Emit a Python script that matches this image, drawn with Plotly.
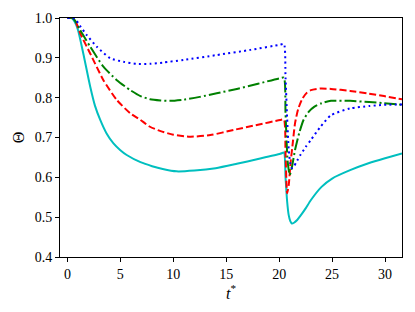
import plotly.graph_objects as go

# ---- data ----
t_cyan = [0, 0.4, 0.7, 1.0, 1.5, 2.15, 2.6, 3.1, 3.7, 4.35, 5.0, 5.6, 6.9, 8.0, 9.0, 10.3, 12, 14, 16, 18,
          20.1, 20.45, 20.6, 20.75, 20.9, 21.05, 21.2, 21.4, 21.7, 22.0, 22.5, 23.0, 24.0, 25.0, 26.7, 28.5, 30.0, 31.6]
th_cyan = [1.0, 1.0, 0.99, 0.97, 0.911, 0.828, 0.78, 0.744, 0.71, 0.685, 0.668, 0.656, 0.638, 0.628, 0.621, 0.615,
           0.617, 0.623, 0.634, 0.646, 0.659, 0.662, 0.6, 0.54, 0.505, 0.49, 0.484, 0.486, 0.493, 0.503, 0.522,
           0.543, 0.576, 0.597, 0.618, 0.636, 0.648, 0.66]

t_red = [0, 0.5, 0.8, 1.2, 2.15, 3.4, 4.67, 5.93, 6.9, 7.8, 8.8, 10, 11.6, 13.5, 15.7, 18, 20.1, 20.45, 20.6,
         20.75, 20.9, 21.07, 21.3, 21.5, 21.8, 22.2, 22.6, 23.0, 23.9, 24.9, 26.7, 28.5, 29.9, 31.6]
th_red = [1.0, 1.0, 0.99, 0.962, 0.911, 0.844, 0.794, 0.761, 0.744, 0.727, 0.716, 0.707, 0.702, 0.706, 0.719,
          0.732, 0.744, 0.745, 0.66, 0.56, 0.58, 0.635, 0.69, 0.736, 0.772, 0.798, 0.812, 0.819, 0.823, 0.822,
          0.817, 0.81, 0.804, 0.796]

t_green = [0, 0.5, 0.8, 1.2, 2.15, 3.4, 4.67, 5.93, 6.9, 7.8, 8.8, 9.7, 11, 12.5, 14.1, 16, 18, 20.1, 20.45,
           20.6, 20.8, 21.0, 21.2, 21.5, 21.9, 22.3, 22.8, 23.3, 24.0, 24.9, 26.7, 28.5, 29.9, 31.6]
th_green = [1.0, 1.0, 0.99, 0.97, 0.928, 0.878, 0.844, 0.819, 0.804, 0.796, 0.793, 0.792, 0.795, 0.802, 0.811,
            0.822, 0.835, 0.849, 0.85, 0.76, 0.64, 0.606, 0.625, 0.669, 0.712, 0.744, 0.765, 0.777, 0.786,
            0.792, 0.792, 0.789, 0.786, 0.782]

t_blue = [0, 0.5, 0.8, 1.2, 1.83, 2.78, 4.04, 5.3, 6.5, 7.8, 9, 11, 14.1, 17.3, 20.1, 20.45, 20.6, 20.75, 20.9,
          21.05, 21.2, 21.4, 21.7, 22.0, 22.5, 23.0, 23.9, 24.9, 26.7, 28.5, 29.9, 31.6]
th_blue = [1.0, 1.0, 0.995, 0.98, 0.957, 0.928, 0.899, 0.89, 0.885, 0.885, 0.888, 0.895, 0.907, 0.92, 0.933,
           0.935, 0.85, 0.75, 0.67, 0.635, 0.623, 0.628, 0.642, 0.656, 0.676, 0.694, 0.727, 0.756, 0.773,
           0.779, 0.782, 0.783]

x_ticks = [0, 5, 10, 15, 20, 25, 30]
y_ticks = [0.4, 0.5, 0.6, 0.7, 0.8, 0.9, 1.0]

series = [
    (t_cyan, th_cyan, "#00BFBF", "solid"),
    (t_red, th_red, "#FF0000", "7px,3px"),
    (t_green, th_green, "#008000", "12px,3px,2px,3px"),
    (t_blue, th_blue, "#0000FF", "2px,3.3px"),
]

fig = go.Figure()
for tx, ty, col, dash in series:
    fig.add_trace(go.Scatter(x=tx, y=ty, mode="lines",
                             line=dict(color=col, width=2, dash=dash, shape="spline", smoothing=0.6),
                             showlegend=False, hoverinfo="skip"))

FAM = "Liberation Serif"
font = dict(family=FAM, size=14, color="black")
axis_common = dict(showgrid=False, zeroline=False, showline=True, linecolor="black", linewidth=1,
                   mirror=True, ticks="outside", ticklen=4, tickwidth=1, tickcolor="black",
                   tickfont=font, automargin=False)

fig.update_layout(
    width=415, height=312,
    margin=dict(l=60, r=13, t=18, b=55),
    paper_bgcolor="white", plot_bgcolor="white",
    font=font,
    xaxis=dict(range=[-0.7, 31.6], tickvals=x_ticks, ticktext=[str(v) for v in x_ticks],
               title=dict(text="<i>t</i><sup>*</sup>", font=dict(family=FAM, size=16), standoff=0),
               **axis_common),
    yaxis=dict(range=[0.4, 1.0], tickvals=y_ticks, ticktext=[f"{v:.1f}" for v in y_ticks],
               title=dict(text="Θ", font=dict(family=FAM, size=16), standoff=6),
               **axis_common),
)

fig.write_html("out.html", config={"displayModeBar": False},
               post_script="document.body.style.margin='0';")
